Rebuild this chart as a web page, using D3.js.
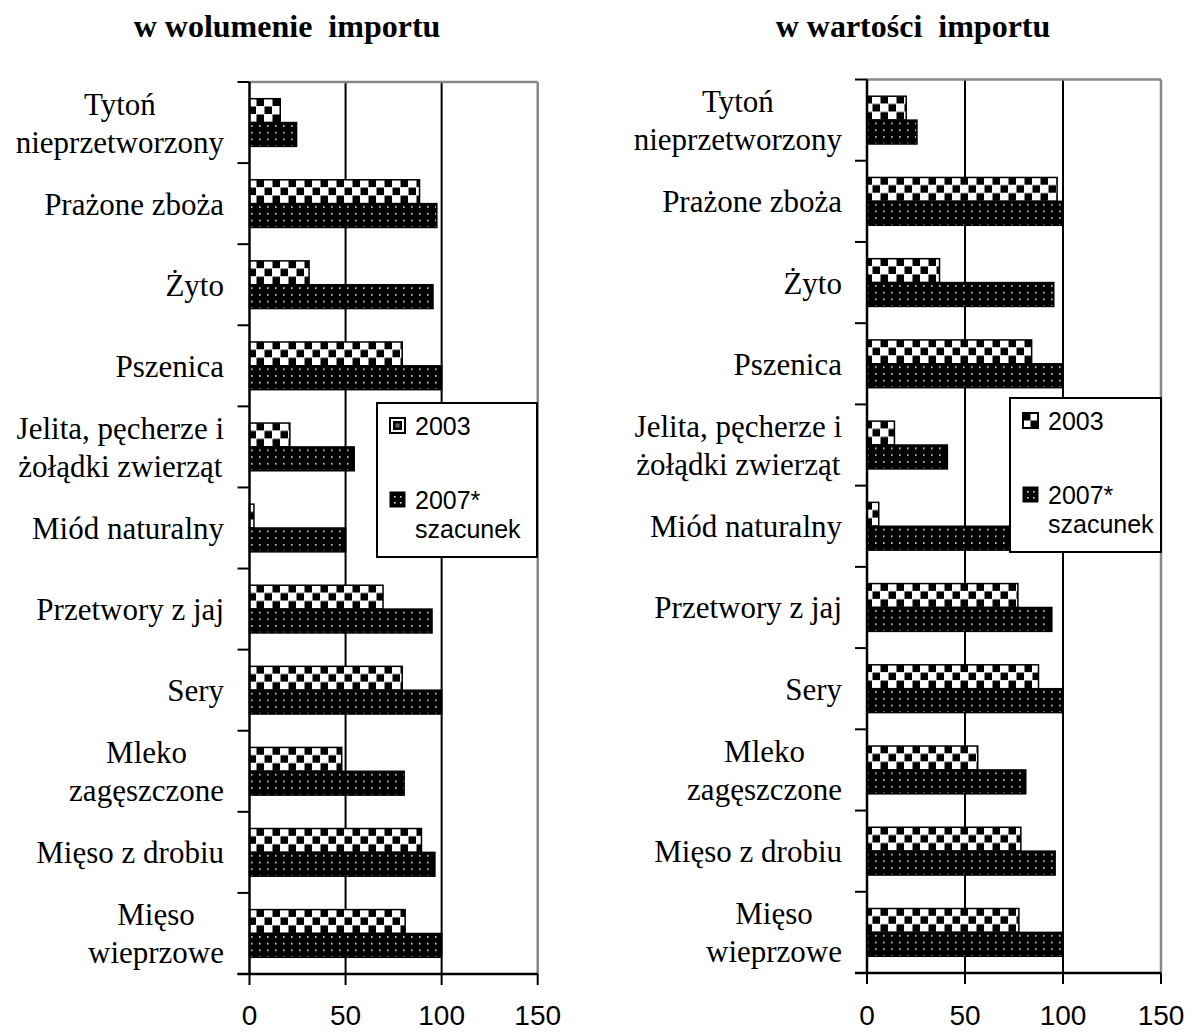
<!DOCTYPE html>
<html><head><meta charset="utf-8">
<script src="https://cdn.jsdelivr.net/npm/d3@7"></script>
<style>
html,body{margin:0;padding:0;background:#fff;}
svg{display:block;}
</style></head>
<body>
<svg id="chart" width="1196" height="1033"></svg>
<script>
const categories = ["Tytoń\nnieprzetworzony", "Prażone zboża", "Żyto", "Pszenica", "Jelita, pęcherze i\nżołądki zwierząt", "Miód naturalny", "Przetwory z jaj", "Sery", "Mleko\nzagęszczone", "Mięso z drobiu", "Mięso\nwieprzowe"];
const seriesNames = ["2003", "2007*\nszacunek"];
const volume2003 = [16, 88.5, 31, 79.5, 21, 2.3, 69.5, 79.5, 48, 89.5, 81];
const volume2007 = [24.5, 97.5, 95.5, 100, 54.5, 50, 95, 100, 80.5, 96.5, 100];
const value2003 = [20, 97, 37, 84, 14, 6, 77, 87.5, 56.5, 78.5, 77.5];
const value2007 = [25.5, 100, 95.3, 100, 41, 88, 94.3, 100, 81, 96, 100];
const xTicks = [0, 50, 100, 150];
const titles = ["w wolumenie  importu", "w wartości  importu"];

const svg = d3.select("#chart");
const defs = svg.append("defs");

// checker pattern (2003)
const pc = defs.append("pattern").attr("id","checker").attr("patternUnits","userSpaceOnUse")
  .attr("width",16).attr("height",16);
pc.append("rect").attr("width",16).attr("height",16).attr("fill","#fff");
pc.append("rect").attr("x",0.5).attr("y",0.5).attr("width",7.5).attr("height",7.5).attr("fill","#000");
pc.append("rect").attr("x",8.5).attr("y",8.5).attr("width",7.5).attr("height",7.5).attr("fill","#000");
// dotted pattern (2007)
const pd = defs.append("pattern").attr("id","dots").attr("patternUnits","userSpaceOnUse")
  .attr("width",8).attr("height",6.7);
pd.append("rect").attr("width",8).attr("height",6.7).attr("fill","#000");
pd.append("rect").attr("x",3).attr("y",3).attr("width",1.6).attr("height",1.6).attr("fill","#d8d8d8");

const panels = [
  {title: titles[0], titleX: 287, s2003: volume2003, s2007: volume2007, x0: 249.5, x1: 537.7, top: 82, bottom: 974, labelRight: 224,
   legend: {x: 377, y: 403, w: 160, h: 154}},
  {title: titles[1], titleX: 913, s2003: value2003, s2007: value2007, x0: 867, x1: 1161, top: 79.5, bottom: 973, labelRight: 842,
   legend: {x: 1010, y: 398, w: 151, h: 154}}
];

panels.forEach((p, pi) => {
  const g = svg.append("g");
  const x = d3.scaleLinear().domain([0,150]).range([p.x0, p.x1]);
  const y = d3.scaleBand().domain(categories).range([p.top, p.bottom]).padding(0);
  const ys = d3.scaleBand().domain(["2003","2007"]).range([0, y.bandwidth()]).paddingInner(0).paddingOuter(0.7);

  // title
  g.append("text").attr("x", p.titleX).attr("y", 37).attr("text-anchor","middle")
    .attr("font-family","'Liberation Serif','Times New Roman',serif").attr("font-weight","bold")
    .attr("font-size", 32).style("white-space","pre").text(p.title);

  // gridlines
  g.selectAll(".grid").data([50,100]).join("line")
    .attr("x1", d=>x(d)).attr("x2", d=>x(d)).attr("y1", p.top).attr("y2", p.bottom)
    .attr("stroke","#000").attr("stroke-width",2);
  // frame top + right (gray)
  g.append("line").attr("x1", x(0)).attr("x2", x(150)).attr("y1", p.top).attr("y2", p.top)
    .attr("stroke","#888").attr("stroke-width",2.5);
  g.append("line").attr("x1", x(150)).attr("x2", x(150)).attr("y1", p.top).attr("y2", p.bottom)
    .attr("stroke","#888").attr("stroke-width",2.5);

  // bars
  const rows = categories.map((c,i)=>({c, v3: p.s2003[i], v7: p.s2007[i]}));
  const grp = g.selectAll(".cat").data(rows).join("g").attr("transform", d=>`translate(0,${y(d.c)})`);
  grp.append("rect").attr("x", x(0)).attr("y", ys("2003")).attr("width", d=>x(d.v3)-x(0)).attr("height", ys.bandwidth())
    .attr("fill","url(#checker)").attr("stroke","#000").attr("stroke-width",1.5);
  grp.append("rect").attr("x", x(0)).attr("y", ys("2007")).attr("width", d=>x(d.v7)-x(0)).attr("height", ys.bandwidth())
    .attr("fill","url(#dots)").attr("stroke","#000").attr("stroke-width",1.5);

  // y axis line and ticks at band boundaries
  g.append("line").attr("x1", x(0)).attr("x2", x(0)).attr("y1", p.top).attr("y2", p.bottom)
    .attr("stroke","#000").attr("stroke-width",2.5);
  const bounds = categories.map(c=>y(c)).concat([p.bottom]);
  g.selectAll(".yt").data(bounds).join("line")
    .attr("x1", x(0)-12).attr("x2", x(0)).attr("y1", d=>d).attr("y2", d=>d)
    .attr("stroke","#000").attr("stroke-width",2);

  // x axis
  g.append("line").attr("x1", x(0)-12).attr("x2", x(150)).attr("y1", p.bottom).attr("y2", p.bottom)
    .attr("stroke","#000").attr("stroke-width",2.5);
  g.selectAll(".xt").data(xTicks).join("line")
    .attr("x1", d=>x(d)).attr("x2", d=>x(d)).attr("y1", p.bottom).attr("y2", p.bottom+11)
    .attr("stroke","#000").attr("stroke-width",2);
  g.selectAll(".xl").data(xTicks).join("text")
    .attr("x", d=>x(d)).attr("y", 1025).attr("text-anchor","middle")
    .attr("font-family","'Liberation Sans',Arial,sans-serif").attr("font-size",28).text(d=>d);

  // category labels (Excel style: lines centered, block right-aligned)
  categories.forEach(c => {
    const lines = c.split("\n");
    const cy = y(c) + y.bandwidth()/2;
    const t = g.append("text").attr("font-family","'Liberation Serif','Times New Roman',serif").attr("font-size",31)
      .attr("text-anchor","middle");
    const tspans = lines.map((ln, li) => t.append("tspan").text(ln));
    let maxW = 0;
    tspans.forEach(ts => { maxW = Math.max(maxW, ts.node().getComputedTextLength()); });
    const cx = p.labelRight - maxW/2;
    tspans.forEach((ts, li) => {
      const base = cy + 11 + (li - (lines.length-1)/2) * 38;
      ts.attr("x", cx).attr("y", base);
    });
  });

  // legend
  const L = p.legend;
  const lg = g.append("g");
  lg.append("rect").attr("x", L.x).attr("y", L.y).attr("width", L.w).attr("height", L.h)
    .attr("fill","#fff").attr("stroke","#000").attr("stroke-width",2);
  const iconX = L.x + 13, iconSize = 15;
  const entries = [
    {fill: "url(#checker)", iy: L.y + 15, lines: seriesNames[0].split("\n")},
    {fill: "url(#dots)", iy: L.y + 89, lines: seriesNames[1].split("\n")}
  ];
  entries.forEach(e => {
    const ic = lg.append("g");
    if (e.fill === "url(#checker)") {
      ic.append("rect").attr("x", iconX).attr("y", e.iy).attr("width", iconSize).attr("height", iconSize).attr("fill","#fff").attr("stroke","#000").attr("stroke-width",2);
      if (pi === 0) {
        ic.append("rect").attr("x", iconX+3).attr("y", e.iy+3).attr("width", 9).attr("height", 9).attr("fill","#000");
        ic.append("rect").attr("x", iconX+5.5).attr("y", e.iy+5.5).attr("width", 4).attr("height", 4).attr("fill","#666");
      } else {
        ic.append("rect").attr("x", iconX).attr("y", e.iy).attr("width", 7.5).attr("height", 7.5).attr("fill","#000");
        ic.append("rect").attr("x", iconX+7.5).attr("y", e.iy+7.5).attr("width", 7.5).attr("height", 7.5).attr("fill","#000");
      }
    } else {
      ic.append("rect").attr("x", iconX).attr("y", e.iy).attr("width", iconSize).attr("height", iconSize).attr("fill","#000").attr("stroke","#000").attr("stroke-width",1);
      [[4,4],[10,4],[4,10],[10,10]].forEach(([dx,dy]) =>
        ic.append("rect").attr("x", iconX+dx).attr("y", e.iy+dy).attr("width",1.6).attr("height",1.6).attr("fill","#ddd"));
    }
    e.lines.forEach((ln, li) => {
      lg.append("text").attr("x", iconX + 25).attr("y", e.iy + 17 + li*29)
        .attr("font-family","'Liberation Sans',Arial,sans-serif").attr("font-size",25).text(ln);
    });
  });
});
</script>
</body></html>
